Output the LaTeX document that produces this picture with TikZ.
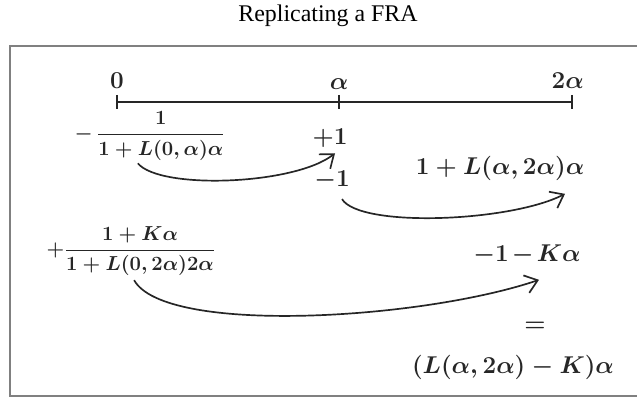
\documentclass[tikz,border=0pt]{standalone}
\usepackage{amsmath,amssymb}
\usepackage{fontspec}
\setmainfont{Liberation Serif}
\usepackage{tikz}
\usetikzlibrary{arrows.meta,positioning}
\newcommand{\Lr}{L}

\begin{document}
\begin{tikzpicture}[
  x=0.025cm, y=-0.025cm,
  hand/.style={inner sep=1pt, text=black!85, font=\boldmath\fontsize{18}{21}\selectfont},
  hsm/.style={inner sep=1pt, text=black!85, font=\boldmath\fontsize{18}{20}\selectfont},
  hfr/.style={inner sep=1pt, text=black!85, anchor=west, font=\boldmath\fontsize{14.5}{17}\selectfont},
  frame/.style={draw=black!50, line width=1.5pt},
  axis/.style={draw=black!85, line width=1.2pt},
  ar/.style={-{Straight Barb[length=3mm,width=4.6mm]}, draw=black!85, line width=1.2pt}]
\useasboundingbox (0,0) rectangle (637,398);
\node[anchor=base, font=\fontsize{17}{19}\selectfont] (title) at (328,22) {Replicating a FRA};
\draw[frame] (640,46) -- (10,46) -- (10,396) -- (640,396);
\coordinate (t0) at (117,102);
\coordinate (t1) at (339,102);
\coordinate (t2) at (572,102);
\draw[axis] (t0) -- (t2);
\foreach \t in {t0,t1,t2}{\draw[axis] ([yshift=5pt]\t) -- ([yshift=-5pt]\t);}
\node[hsm, above=3mm of t0] (l0) {$0$};
\node[hsm, above=2.6mm of t1] (l1) {$\alpha$};
\node[hsm, above=3mm of t2, xshift=-3pt] (l2) {$2\alpha$};
\node[hfr] (frac1) at (73,136) {$-\,\dfrac{1}{1+\Lr(0,\alpha)\alpha}$};
\node[hsm] (p1) at (330,138) {$+1$};
\node[hsm] (m1) at (332,180) {$-1$};
\node[hand] (fw) at (500,168) {$1+\Lr(\alpha,2\alpha)\alpha$};
\node[hfr] (frac2) at (45,251) {$+\dfrac{1+K\alpha}{1+\Lr(0,2\alpha)2\alpha}$};
\node[hsm, font=\boldmath\fontsize{17}{20}\selectfont] (fl) at (527,255) {$-1\mkern-2mu-\mkern-2mu K\alpha$};
\node[hand] (eq) at (535,327) {$=$};
\node[hand] (res) at (513,367) {$(\Lr(\alpha,2\alpha)-K)\alpha$};
\draw[ar] ([xshift=-0.3cm,yshift=-1pt]frac1.south) .. controls (160,190) and (295,185) .. ([xshift=0.125cm,yshift=-3pt]p1.south);
\draw[ar] ([xshift=0.25cm,yshift=-0.2cm]m1.south) .. controls (360,228) and (510,222) .. ([xshift=1.625cm,yshift=-0.3cm]fw.south);
\draw[ar] ([xshift=0.075cm,yshift=-2pt]frac2.south) .. controls (165,335) and (420,320) .. ([xshift=0.3cm,yshift=-0.33cm]fl.south);
\end{tikzpicture}
\end{document}
